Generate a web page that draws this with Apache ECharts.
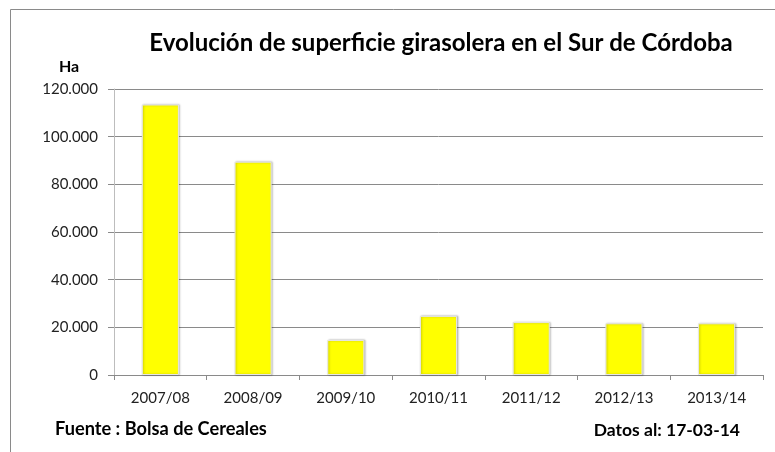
<!DOCTYPE html>
<html><head><meta charset="utf-8">
<script src="https://cdn.jsdelivr.net/npm/echarts@6/dist/echarts.min.js"></script>
<style>html,body{margin:0;padding:0;background:#fff}#c{width:775px;height:452px}</style>
</head><body><div id="c"></div>
<script>
const categories = ['2007/08','2008/09','2009/10','2010/11','2011/12','2012/13','2013/14'];
const superficie = [113500, 89500, 14700, 24800, 22200, 21700, 21700];
const yTicks = [0, 20000, 40000, 60000, 80000, 100000, 120000];
const titleText = 'Evolución de superficie girasolera en el Sur de Córdoba';
const unitText = 'Ha';
const sourceText = 'Fuente : Bolsa de Cereales';
const dateText = 'Datos al: 17-03-14';

const FONT = 'Lato, "Open Sans", sans-serif';
const chart = echarts.init(document.getElementById('c'), null, {renderer:'canvas'});
function fmt(v){ return String(v).replace(/\B(?=(\d{3})+(?!\d))/g, '.'); }
chart.setOption({
  animation:false,
  backgroundColor:'#fff',
  graphic:[
    {type:'rect', shape:{x:10.5, y:9.5, width:800, height:600}, style:{fill:'none', stroke:'#8a8a8a', lineWidth:1}, silent:true},
    {type:'text', x:441, y:43, style:{text:titleText, align:'center', verticalAlign:'middle', fontFamily:FONT, fontSize:24, fontWeight:'bold', fill:'#000'}},
    {type:'text', x:69, y:67, style:{text:unitText, align:'center', verticalAlign:'middle', fontFamily:FONT, fontSize:16, fontWeight:'bold', fill:'#000'}},
    {type:'text', x:55, y:429, style:{text:sourceText, align:'left', verticalAlign:'middle', fontFamily:FONT, fontSize:18.2, fontWeight:'bold', fill:'#000'}},
    {type:'text', x:740, y:430, style:{text:dateText, align:'right', verticalAlign:'middle', fontFamily:FONT, fontSize:17.5, fontWeight:'bold', fill:'#000'}}
  ],
  grid:{left:114, right:12, top:89, bottom:77, containLabel:false},
  xAxis:{type:'category', data:categories,
    axisLine:{lineStyle:{color:'#8a8a8a'}},
    axisTick:{show:true, alignWithLabel:false, length:5, lineStyle:{color:'#8a8a8a'}},
    axisLabel:{fontFamily:FONT, fontSize:15, color:'#222', margin:16}},
  yAxis:{type:'value', min:yTicks[0], max:yTicks[yTicks.length-1], interval:20000,
    axisLine:{show:true, lineStyle:{color:'#bdbdbd'}},
    axisTick:{show:true, length:6, lineStyle:{color:'#8a8a8a'}},
    splitLine:{lineStyle:{color:'#8a8a8a'}},
    axisLabel:{fontFamily:FONT, fontSize:15, color:'#222', margin:16, formatter:fmt}},
  series:[{type:'bar', data:superficie, barWidth:'40%',
    itemStyle:{color:'#ffff00', borderColor:'#e6e6e6', borderWidth:1, shadowColor:'rgba(0,0,0,0.25)', shadowBlur:2, shadowOffsetX:1, shadowOffsetY:0}}]
});
</script></body></html>
